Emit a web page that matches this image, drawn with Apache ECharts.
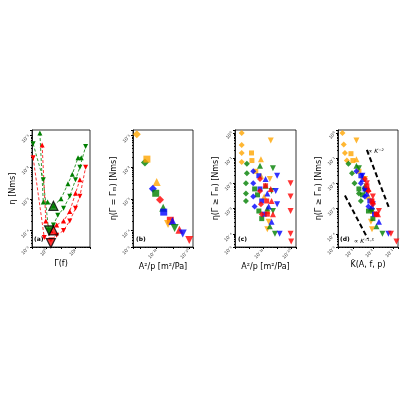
<!DOCTYPE html>
<html>
<head>
<meta charset="utf-8">
<script src="https://cdn.jsdelivr.net/npm/echarts@6/dist/echarts.min.js"></script>
<style>html,body{margin:0;background:#fff}#c{width:400px;height:400px}</style>
</head>
<body>
<div id="c"></div>
<script>
// panel (a): eta vs Gamma(f)
const aGreenDown = [[0.12,0.055],[0.6,0.004],[1.4,0.0001],[3,0.00015],[6,0.0003],[15,0.0005],[40,0.0012],[100,0.004],[200,0.01],[500,0.045]];
const aGreenUp = [[0.35,0.12],[0.6,0.0008],[1.2,0.0008],[3,0.0006],[10,0.001],[30,0.003],[60,0.006],[150,0.02],[250,0.02]];
const aRedDown = [[0.12,0.02],[0.7,0.00006],[2,0.00005],[5,0.00007],[15,0.0001],[40,0.0002],[100,0.0005],[200,0.0012],[500,0.01]];
const aRedUp = [[0.5,0.05],[0.9,0.0002],[2,0.0001],[5,0.00015],[15,0.0002],[40,0.0004],[100,0.0015],[200,0.004]];
const aMinUp = [[3,0.0006,'#008000'],[3,0.0001,'#ff0000']];
const aMinDown = [[1.5,0.0001,'#008000'],[2,0.00004,'#ff0000']];

// panel (b): eta at Gamma_m vs A^2/p   [x, y, colour, shape]
const bPoints = [
  [6e-14,0.11,'o','d'],[1.9e-13,0.014,'g','d'],[2.5e-13,0.018,'o','s'],[1e-12,0.0034,'o','u'],
  [5.8e-13,0.0021,'b','d'],[8.7e-13,0.0015,'g','s'],[1.6e-12,0.00093,'r','d'],[2.5e-12,0.00052,'g','u'],
  [2.7e-12,0.00038,'b','s'],[6.9e-12,0.00021,'r','s'],[5e-12,0.00016,'o','n'],[9.3e-12,0.0002,'b','u'],
  [1.26e-11,0.00012,'g','n'],[2.5e-11,0.000105,'r','u'],[4e-11,0.00008,'b','n'],[1e-10,0.00005,'r','n']
];

// panel (c): eta (Gamma >= Gamma_m) vs A^2/p
const cOrange = {d:[[3e-14,1],[3e-14,0.33],[3e-14,0.16],[3e-14,0.07]], s:[[1.5e-13,0.16],[1.6e-13,0.08],[3e-13,0.03]], u:[[7e-13,0.09],[7e-13,0.02],[1.2e-12,0.003],[2e-12,0.0008]], n:[[3.5e-12,0.5],[3e-12,0.015],[2.5e-12,0.0003],[2e-12,0.00015]]};
const cGreen = {d:[[7e-14,0.06],[7e-14,0.025],[6e-14,0.01],[6e-14,0.004],[6e-14,0.002]], s:[[2.5e-13,0.006],[4e-13,0.0035],[5e-13,0.0008],[8e-13,0.0004]], u:[[6e-13,0.05],[1.5e-12,0.008],[2e-12,0.001],[3e-12,0.0002]], n:[[5e-12,0.04],[4e-12,0.005],[5e-12,0.0008],[7e-12,0.0001]]};
const cBlue = {d:[[2e-13,0.03],[2e-13,0.01],[2e-13,0.003],[2.5e-13,0.0012]], s:[[5e-13,0.02],[6e-13,0.006],[8e-13,0.002],[1.2e-12,0.0006]], u:[[1.5e-12,0.015],[2e-12,0.004],[2.5e-12,0.0012],[4e-12,0.0003]], n:[[1e-11,0.02],[8e-12,0.005],[1e-11,0.0015],[1.5e-11,0.0001]]};
const cRed = {d:[[6e-13,0.015],[6e-13,0.005],[7e-13,0.0015],[8e-13,0.0006]], s:[[1.5e-12,0.008],[1.8e-12,0.002],[2e-12,0.0006]], u:[[3.5e-12,0.006],[4e-12,0.002],[5e-12,0.0006]], n:[[9e-11,0.01],[9e-11,0.003],[9e-11,0.0008],[9e-11,0.0001],[1e-10,0.00005]]};

// panel (d): eta vs K-hat
const dOrange = {d:[[3e-4,1],[3.5e-4,0.35],[4e-4,0.16],[5e-4,0.08]], s:[[8e-4,0.15],[1e-3,0.08],[2e-3,0.03]], u:[[1.5e-3,0.09],[3e-3,0.02],[6e-3,0.003],[1e-2,0.0008]], n:[[1.5e-3,0.5],[4e-3,0.015],[8e-3,0.0003],[9e-3,0.00015]]};
const dGreen = {d:[[6e-4,0.06],[9e-4,0.025],[1.2e-3,0.01],[2e-3,0.004],[2.5e-3,0.002]], s:[[2e-3,0.006],[3e-3,0.0035],[6e-3,0.0008],[1e-2,0.0004]], u:[[1.5e-3,0.05],[4e-3,0.008],[8e-3,0.001],[1.5e-2,0.0002]], n:[[2e-3,0.04],[4e-3,0.005],[9e-3,0.0008],[3e-2,0.0001]]};
const dBlue = {d:[[1.5e-3,0.03],[2.5e-3,0.01],[4e-3,0.003],[6e-3,0.0012]], s:[[2.5e-3,0.02],[4e-3,0.006],[7e-3,0.002],[1.2e-2,0.0006]], u:[[3e-3,0.015],[5e-3,0.004],[9e-3,0.0012],[2e-2,0.0003]], n:[[3e-3,0.02],[5e-3,0.005],[1e-2,0.0015],[6e-2,0.0001]]};
const dRed = {d:[[4e-3,0.015],[6e-3,0.005],[1e-2,0.0015],[1.5e-2,0.0006]], s:[[5e-3,0.008],[9e-3,0.002],[1.5e-2,0.0006]], u:[[6e-3,0.006],[1e-2,0.002],[1.8e-2,0.0006]], n:[[5e-3,0.01],[1e-2,0.003],[2e-2,0.0008],[8e-2,0.0001],[1.5e-1,0.00005]]};
const dSlope2 = [[5e-3,0.21],[6.6e-2,0.001]];
const dSlope15 = [[4e-4,0.0033],[5.6e-3,0.000063]];

const COLORS = {o:'#ffa500', g:'#008000', b:'#0000ff', r:'#ff0000'};
const DOWN = 'path://M0,0 L10,0 L5,10 Z';
const SHAPES = {d:'diamond', s:'rect', u:'triangle', n:DOWN};
const SIZES = {d:6, s:5, u:6, n:6};

const SUP = {'-':'⁻','0':'⁰','1':'¹','2':'²','3':'³','4':'⁴','5':'⁵','6':'⁶','7':'⁷','8':'⁸','9':'⁹'};
const pow10 = v => {
    const e = Math.round(Math.log10(v));
    return '10' + String(e).split('').map(c => SUP[c]).join('');
};
const onlyExp = list => v => list.includes(Math.round(Math.log10(v))) ? pow10(v) : '';

const lbl = {fontSize: 5, rotate: 45, color: '#333', margin: 3};
const nameStyle = {fontSize: 8, color: '#000', fontFamily: 'DejaVu Sans'};
const grids = [
    {left: 32, top: 130, width: 58, height: 117},
    {left: 133, top: 130, width: 60, height: 117},
    {left: 235, top: 130, width: 61, height: 117},
    {left: 338, top: 130, width: 60, height: 117}
].map(g => Object.assign(g, {show: true, borderColor: '#000', borderWidth: 0.8}));

function logAxis(idx, min, max, fmt, name, gap) {
    return {
        type: 'log', gridIndex: idx, min: min, max: max, logBase: 10,
        name: name, nameLocation: 'middle', nameGap: gap, nameTextStyle: nameStyle,
        axisLine: {lineStyle: {color: '#000', width: 0.8}},
        axisTick: {length: 2, lineStyle: {color: '#000'}},
        minorTick: {show: true, length: 1, splitNumber: 9, lineStyle: {color: '#000'}},
        splitLine: {show: false},
        axisLabel: Object.assign({formatter: fmt}, lbl)
    };
}

const xAxes = [
    logAxis(0, 0.1, 1000, onlyExp([0, 2]), 'Γ(f)', 13),
    logAxis(1, 3.5e-14, 1.7e-10, onlyExp([-12, -10]), 'A²/p [m²/Pa]', 13),
    logAxis(2, 1e-14, 2.2e-10, onlyExp([-12, -10]), 'A²/p [m²/Pa]', 13),
    logAxis(3, 1.8e-4, 1.8e-1, onlyExp([-3, -2, -1]), 'K̂(A, f, p)', 13)
];
const yAxes = [
    logAxis(0, 3e-5, 0.15, pow10, 'η [Nms]', 10),
    logAxis(1, 3e-5, 0.15, pow10, 'η(Γ = Γₘ) [Nms]', 10),
    logAxis(2, 3e-5, 1.3, pow10, 'η(Γ ≥ Γₘ) [Nms]', 10),
    logAxis(3, 3e-5, 1.3, pow10, 'η(Γ ≥ Γₘ) [Nms]', 10)
];

const series = [];
function lineSeries(data, color, symbol) {
    series.push({type: 'line', xAxisIndex: 0, yAxisIndex: 0, data: data, symbol: symbol, symbolSize: 5,
        lineStyle: {color: color, width: 0.8, type: [3, 2]}, itemStyle: {color: color}, silent: true});
}
lineSeries(aGreenDown, COLORS.g, DOWN);
lineSeries(aGreenUp, COLORS.g, 'triangle');
lineSeries(aRedDown, COLORS.r, DOWN);
lineSeries(aRedUp, COLORS.r, 'triangle');
[[aMinUp, 'triangle'], [aMinDown, DOWN]].forEach(([pts, sym]) => {
    series.push({type: 'scatter', xAxisIndex: 0, yAxisIndex: 0, symbol: sym, symbolSize: 9, z: 5,
        data: pts.map(p => ({value: [p[0], p[1]], itemStyle: {color: p[2], borderColor: '#000', borderWidth: 1.2}}))});
});

bPoints.forEach(p => {
    series.push({type: 'scatter', xAxisIndex: 1, yAxisIndex: 1, data: [[p[0], p[1]]],
        symbol: SHAPES[p[3]], symbolSize: SIZES[p[3]] + 2, itemStyle: {color: COLORS[p[2]]}});
});

function groupSeries(idx, groups) {
    groups.forEach(([key, g]) => {
        Object.keys(g).forEach(s => {
            series.push({type: 'scatter', xAxisIndex: idx, yAxisIndex: idx, data: g[s],
                symbol: SHAPES[s], symbolSize: SIZES[s], itemStyle: {color: COLORS[key]}});
        });
    });
}
groupSeries(2, [['o', cOrange], ['g', cGreen], ['b', cBlue], ['r', cRed]]);
groupSeries(3, [['o', dOrange], ['g', dGreen], ['b', dBlue], ['r', dRed]]);

[dSlope2, dSlope15].forEach(d => {
    series.push({type: 'line', xAxisIndex: 3, yAxisIndex: 3, data: d, symbol: 'none',
        lineStyle: {color: '#000', width: 2, type: [5, 3]}});
});

const panelText = (x, y, t) => ({type: 'text', left: x, top: y,
    style: {text: t, font: 'bold 6px DejaVu Sans', fill: '#000'}});
const chart = echarts.init(document.getElementById('c'));
chart.setOption({
    animation: false,
    grid: grids,
    xAxis: xAxes,
    yAxis: yAxes,
    series: series,
    graphic: [
        panelText(34, 236, '(a)'),
        panelText(136, 236, '(b)'),
        panelText(238, 236, '(c)'),
        panelText(340, 236, '(d)'),
        {type: 'text', left: 368, top: 148, style: {text: '∝ K⁻²', font: 'italic 6px DejaVu Sans', fill: '#000'}},
        {type: 'text', left: 354, top: 238, style: {text: '∝ K⁻¹·⁵', font: 'italic 6px DejaVu Sans', fill: '#000'}}
    ]
});
</script>
</body>
</html>
